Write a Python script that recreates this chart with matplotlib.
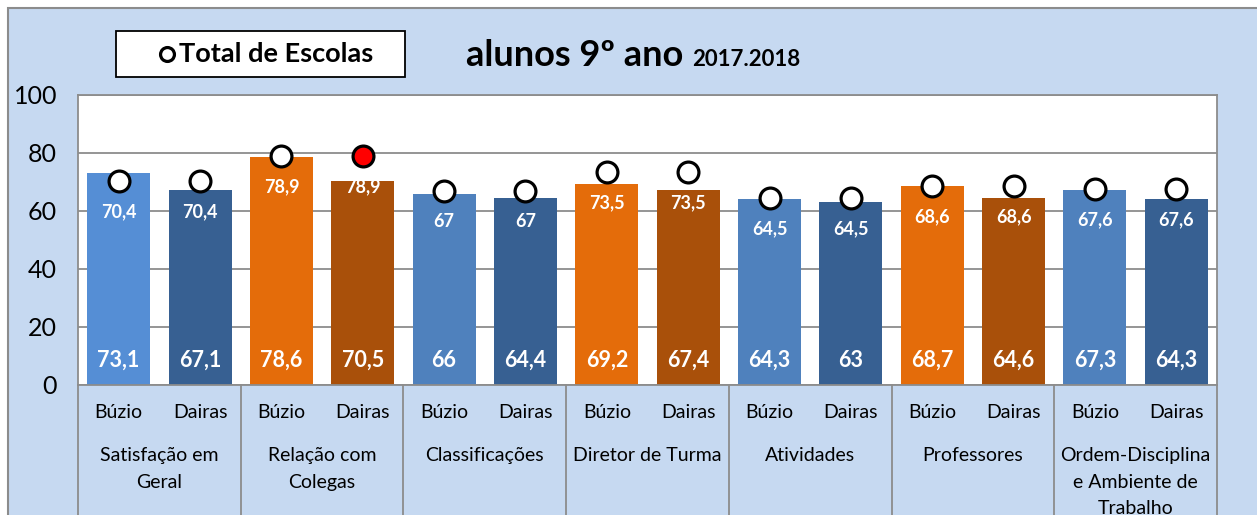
import matplotlib
matplotlib.use("Agg")
import numpy as np
from matplotlib import pyplot as plt
from matplotlib.patches import Rectangle
from matplotlib.lines import Line2D

# data
categories = ["Satisfação em\nGeral", "Relação com\nColegas", "Classificações",
              "Diretor de Turma", "Atividades", "Professores",
              "Ordem-Disciplina\ne Ambiente de\nTrabalho"]
schools = ["Búzio", "Dairas"]
buzio = [73.1, 78.6, 66, 69.2, 64.3, 68.7, 67.3]
dairas = [67.1, 70.5, 64.4, 67.4, 63, 64.6, 64.3]
total = [70.4, 78.9, 67, 73.5, 64.5, 68.6, 67.6]
yticks = [0, 20, 40, 60, 80, 100]

W, H = 1257, 515
FONT = "Lato"
plt.rcParams['font.family'] = [FONT, 'DejaVu Sans']


def fmt(v):
    return f"{v:g}".replace('.', ',')


def main():
    fig = plt.figure(figsize=(W / 100, H / 100), dpi=100, facecolor='white')

    # outer chart area (light blue, gray border)
    fig.add_artist(Rectangle((8 / W, -0.2), 1.2, (H - 8) / H + 0.2,
                             transform=fig.transFigure, facecolor='#C6D9F1',
                             edgecolor='#8c8c8c', lw=1.5, zorder=-5))

    left, right, top, bottom = 78, 1217, 95, 385
    ax = fig.add_axes([left / W, (H - bottom) / H, (right - left) / W, (bottom - top) / H])
    ax.set_facecolor('white')

    n = len(categories)
    vals = []
    for b, d in zip(buzio, dairas):
        vals += [b, d]
    tot = []
    for t in total:
        tot += [t, t]
    x = np.arange(2 * n)

    blue_b, blue_d = '#4F81BD', '#376092'
    or_b, or_d = '#E46C0A', '#A9500A'
    colors = []
    for i in range(n):
        if i % 2 == 0:
            colors += [blue_b, blue_d]
        else:
            colors += [or_b, or_d]
    colors[0] = '#558ED5'

    ax.bar(x, vals, width=0.775, color=colors, zorder=2)

    # markers for total of schools
    face = ['white'] * len(tot)
    face[3] = '#FF0000'
    for xi, ti, fc in zip(x, tot, face):
        ax.plot(xi, ti, 'o', ms=15, mfc=fc, mec='black', mew=2.3, zorder=4, clip_on=False)
        ax.annotate(fmt(ti), (xi, ti), xytext=(0, -31), textcoords='offset pixels',
                    ha='center', va='center', color='white', fontweight='bold',
                    fontsize=13, zorder=5)

    for xi, v in zip(x, vals):
        ax.text(xi, 8.6, fmt(v), ha='center', va='center', color='white',
                fontweight='bold', fontsize=15.5, zorder=5)

    ax.set_xlim(-0.5, 2 * n - 0.5)
    ax.set_ylim(0, 100)
    ax.set_yticks(yticks)
    ax.set_yticklabels([str(t) for t in yticks], fontsize=18)
    ax.tick_params(axis='y', length=0, pad=15)
    ax.set_xticks([])
    ax.grid(axis='y', color='#8c8c8c', lw=1.3, zorder=0)
    ax.set_axisbelow(True)
    for s in ax.spines.values():
        s.set_color('#8c8c8c')
        s.set_linewidth(1.3)

    # category table below the plot
    tr = ax.get_xaxis_transform()
    px = 1 / (bottom - top)
    for g in range(n + 1):
        ax.plot([g * 2 - 0.5] * 2, [0, -(H - bottom) * px], color='#8c8c8c', lw=1.3,
                transform=tr, clip_on=False, zorder=3)
    for i in range(n):
        for j, s in enumerate(schools):
            ax.text(2 * i + j, -28 * px, s, transform=tr, ha='center', va='center',
                    fontsize=14)
        ax.text(2 * i + 0.5, -62 * px, categories[i], transform=tr, ha='center',
                va='top', fontsize=14, linespacing=1.68)

    # legend box
    fig.add_artist(Rectangle((116 / W, 1 - 77 / H), 289 / W, 46 / H,
                             transform=fig.transFigure, facecolor='white',
                             edgecolor='black', lw=1.3, zorder=6))
    fig.add_artist(Line2D([167 / W], [1 - 54 / H], marker='o', ms=10, mfc='white',
                          mec='black', mew=2.3, transform=fig.transFigure, zorder=7))
    fig.text(179 / W, 1 - 54 / H, "Total de Escolas", ha='left', va='center',
             fontsize=19.5, fontweight='bold', zorder=7)

    # title
    t1 = fig.text(466 / W, 1 - 66 / H, "alunos 9º ano", ha='left', va='baseline',
                  fontsize=26, fontweight='bold')
    fig.canvas.draw()
    bb = t1.get_window_extent()
    fig.text((bb.x1 + 9) / W, 1 - 66 / H, "2017.2018", ha='left', va='baseline',
             fontsize=16, fontweight='bold')

    plt.savefig("out.png", dpi=100)


if __name__ == '__main__':
    main()
